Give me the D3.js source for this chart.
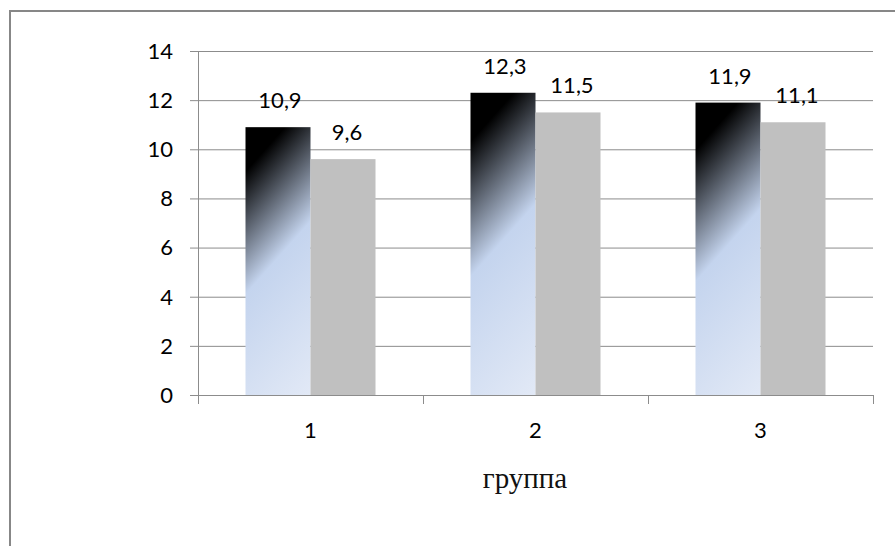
<!DOCTYPE html>
<html>
<head>
<meta charset="utf-8">
<script src="https://cdn.jsdelivr.net/npm/d3@7"></script>
<style>
  body { margin: 0; background: #fff; }
  svg { display: block; }
</style>
</head>
<body>
<div id="chart"></div>
<script>
var categories = ["1", "2", "3"];
var series1 = [10.9, 12.3, 11.9];
var series2 = [9.6, 11.5, 11.1];
var yTicks = [0, 2, 4, 6, 8, 10, 12, 14];
var axisTitle = "группа";

var width = 895, height = 546;
var plotLeft = 198, plotRight = 873, plotTop = 51, plotBottom = 395;

var svg = d3.select("#chart").append("svg")
    .attr("width", width).attr("height", height);

// outer frame (runs off the right and bottom edge)
svg.append("rect")
    .attr("x", 10).attr("y", 11)
    .attr("width", 900).attr("height", 600)
    .attr("fill", "#fff")
    .attr("stroke", "#878787").attr("stroke-width", 2);

var y = d3.scaleLinear().domain([0, 14]).range([plotBottom, plotTop]);
var x = d3.scaleBand().domain(categories).range([plotLeft, plotRight]);
var barW = 65;

// grid
svg.append("g").selectAll("line")
    .data(yTicks.filter(function(d) { return d > 0; }))
    .enter().append("line")
    .attr("x1", plotLeft - 8).attr("x2", plotRight)
    .attr("y1", function(d) { return y(d) + 0.5; })
    .attr("y2", function(d) { return y(d) + 0.5; })
    .attr("stroke", "#8c8c8c").attr("stroke-width", 1);

var defs = svg.append("defs");

var groups = categories.map(function(c, i) {
  return { cat: c, a: series1[i], b: series2[i] };
});

// diagonal gradient per bar
groups.forEach(function(g, i) {
  var cx = x(g.cat) + x.bandwidth() / 2;
  var x0 = cx - barW, y0 = y(g.a);
  var h = plotBottom - y0;
  var dx = 0.747, dy = 0.665;
  var len = barW * dx + h * dy;
  var grad = defs.append("linearGradient")
      .attr("id", "g" + i)
      .attr("gradientUnits", "userSpaceOnUse")
      .attr("x1", x0).attr("y1", y0)
      .attr("x2", x0 + dx * len).attr("y2", y0 + dy * len);
  grad.append("stop").attr("offset", 0).attr("stop-color", "#000");
  grad.append("stop").attr("offset", 0.13).attr("stop-color", "#000");
  grad.append("stop").attr("offset", 0.49).attr("stop-color", "#c4d4ee");
  grad.append("stop").attr("offset", 1).attr("stop-color", "#e2e9f6");
});

var bars = svg.append("g");
groups.forEach(function(g, i) {
  var cx = x(g.cat) + x.bandwidth() / 2;
  bars.append("rect")
      .attr("x", cx - barW).attr("y", y(g.a))
      .attr("width", barW).attr("height", plotBottom - y(g.a))
      .attr("fill", "url(#g" + i + ")");
  bars.append("rect")
      .attr("x", cx).attr("y", y(g.b))
      .attr("width", barW).attr("height", plotBottom - y(g.b))
      .attr("fill", "#c0c0c0");
});

// axes
svg.append("line")
    .attr("x1", plotLeft + 0.5).attr("x2", plotLeft + 0.5)
    .attr("y1", plotTop).attr("y2", plotBottom + 9)
    .attr("stroke", "#8c8c8c");
svg.append("line")
    .attr("x1", plotLeft - 8).attr("x2", plotRight)
    .attr("y1", plotBottom + 0.5).attr("y2", plotBottom + 0.5)
    .attr("stroke", "#8c8c8c");
svg.append("g").selectAll("line")
    .data(d3.range(categories.length + 1))
    .enter().append("line")
    .attr("x1", function(d) { return plotLeft + d * x.bandwidth() + 0.5; })
    .attr("x2", function(d) { return plotLeft + d * x.bandwidth() + 0.5; })
    .attr("y1", plotBottom).attr("y2", plotBottom + 9)
    .attr("stroke", "#8c8c8c");

var font = "Lato, 'Open Sans', sans-serif";
var fs = 22;

svg.append("g").selectAll("text")
    .data(yTicks)
    .enter().append("text")
    .attr("x", 173).attr("y", function(d) { return y(d); })
    .attr("dy", "0.36em")
    .attr("text-anchor", "end")
    .attr("font-family", font).attr("font-size", fs)
    .attr("fill", "#000")
    .text(function(d) { return d; });

svg.append("g").selectAll("text")
    .data(categories)
    .enter().append("text")
    .attr("x", function(d) { return x(d) + x.bandwidth() / 2; })
    .attr("y", 438)
    .attr("text-anchor", "middle")
    .attr("font-family", font).attr("font-size", fs)
    .attr("fill", "#000")
    .text(function(d) { return d; });

var fmt = function(v) { return d3.format(".1f")(v).replace(".", ","); };
var labels = svg.append("g");
groups.forEach(function(g) {
  var cx = x(g.cat) + x.bandwidth() / 2;
  labels.append("text")
      .attr("x", cx - barW / 2 + 2).attr("y", y(g.a) - 19)
      .attr("text-anchor", "middle")
      .attr("font-family", font).attr("font-size", fs).attr("fill", "#000")
      .text(fmt(g.a));
  labels.append("text")
      .attr("x", cx + barW / 2 + 4).attr("y", y(g.b) - 19)
      .attr("text-anchor", "middle")
      .attr("font-family", font).attr("font-size", fs).attr("fill", "#000")
      .text(fmt(g.b));
});

svg.append("text")
    .attr("x", 525).attr("y", 488)
    .attr("text-anchor", "middle")
    .attr("font-family", "'Liberation Serif', 'Times New Roman', serif")
    .attr("font-size", 29).attr("fill", "#111")
    .text(axisTitle);
</script>
</body>
</html>
